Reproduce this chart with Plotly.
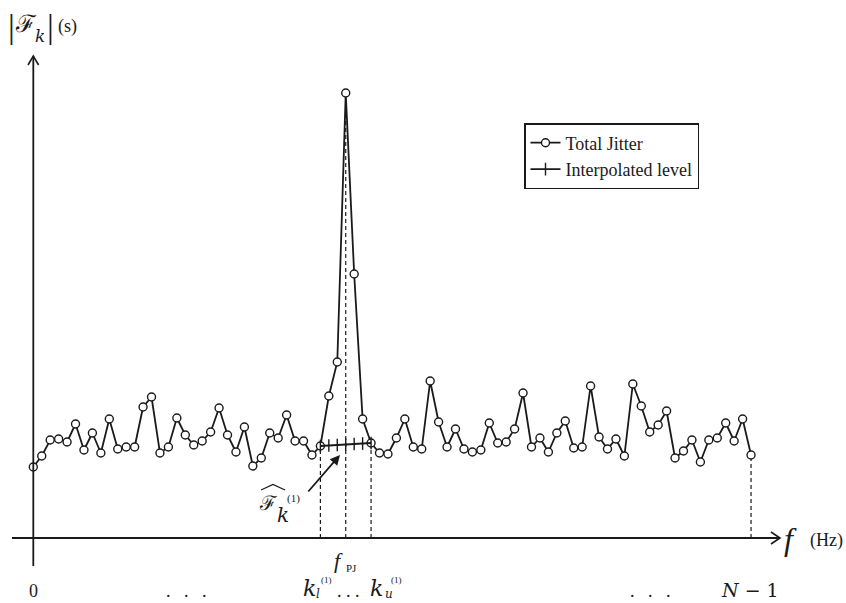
import plotly.graph_objects as go

# Spectrum magnitude |F_k| per frequency bin k (arbitrary units)
bins = list(range(86))
total_jitter = [
    0.71, 0.82, 0.98, 0.99, 0.96, 1.14, 0.88, 1.05, 0.85, 1.19,
    0.89, 0.91, 0.91, 1.31, 1.41, 0.85, 0.91, 1.20, 1.03, 0.93,
    0.97, 1.06, 1.30, 1.03, 0.86, 1.11, 0.72, 0.80, 1.05, 1.00,
    1.23, 0.97, 0.97, 0.83, 0.92, 1.42, 1.76, 4.45, 2.64, 1.19,
    0.95, 0.85, 0.84, 1.00, 1.19, 0.91, 0.89, 1.57, 1.16, 0.91,
    1.09, 0.89, 0.86, 0.88, 1.15, 0.95, 0.96, 1.09, 1.45, 0.91,
    1.00, 0.86, 1.05, 1.17, 0.90, 0.91, 1.52, 1.01, 0.89, 0.99,
    0.82, 1.54, 1.32, 1.06, 1.13, 1.27, 0.80, 0.87, 0.98, 0.76,
    0.98, 1.00, 1.15, 0.97, 1.19, 0.83,
]

# Interpolated noise floor across the peak region k_l .. k_u
interp_bins = [34, 35, 36, 37, 38, 39, 40]
interp_level = [0.92, 0.925, 0.93, 0.935, 0.94, 0.945, 0.95]

peak_bin = 37
k_lower, k_upper = 34, 40
last_bin = 85

W, H = 846, 603
# pixel <-> data conversion (axes fill the whole canvas)
X0, XS = 33.3, 8.444
Y0, YS = 538.0, 100.0


def dx(px):
    return (px - X0) / XS


def dy(py):
    return (Y0 - py) / YS


SERIF = "Liberation Serif, Times New Roman, serif"
MATH = "DejaVu Serif, Liberation Serif, serif"
INK = "#1a1a1a"

fig = go.Figure()

fig.add_trace(go.Scatter(
    x=bins, y=total_jitter, mode="lines+markers", name="Total Jitter",
    line=dict(color=INK, width=1.8),
    marker=dict(symbol="circle", size=8, color="white",
                line=dict(color=INK, width=1.4)),
))
fig.add_trace(go.Scatter(
    x=interp_bins, y=interp_level, mode="lines+markers", name="Interpolated level",
    line=dict(color=INK, width=1.8),
    marker=dict(symbol="line-ns", size=9, line=dict(color=INK, width=1.4)),
))

shapes = []
# dashed drop lines from selected bins to the frequency axis
for b in (k_lower, peak_bin, k_upper, last_bin):
    shapes.append(dict(type="line", xref="x", yref="y", x0=b, x1=b,
                       y0=0, y1=total_jitter[b], layer="below",
                       line=dict(color=INK, width=1.2, dash="4px,3px")))

# frequency axis with open arrowhead
shapes.append(dict(type="line", xref="x", yref="y", x0=dx(12), x1=dx(780),
                   y0=0, y1=0, line=dict(color=INK, width=1.8)))
shapes.append(dict(type="path", xref="x", yref="y",
                   path=f"M {dx(771)},{dy(532)} L {dx(780)},{dy(538)} L {dx(771)},{dy(544)}",
                   line=dict(color=INK, width=1.6)))
# magnitude axis with open arrowhead
shapes.append(dict(type="line", xref="x", yref="y", x0=0, x1=0,
                   y0=dy(566), y1=dy(56), line=dict(color=INK, width=1.8)))
shapes.append(dict(type="path", xref="x", yref="y",
                   path=f"M {dx(28)},{dy(65)} L {dx(33.3)},{dy(56)} L {dx(38.6)},{dy(65)}",
                   line=dict(color=INK, width=1.6)))
# wide hat over the estimated-level symbol
shapes.append(dict(type="path", xref="x", yref="y",
                   path=f"M {dx(261)},{dy(490)} L {dx(273)},{dy(484.5)} L {dx(285)},{dy(490)}",
                   line=dict(color=INK, width=1.2)))

ann = []


def label(px, py, text, size=18, font=SERIF, xanchor="center", yanchor="middle"):
    ann.append(dict(x=dx(px), y=dy(py), xref="x", yref="y", text=text,
                    showarrow=False, xanchor=xanchor, yanchor=yanchor,
                    font=dict(family=font, size=size, color=INK)))


# magnitude axis title |F_k| (s)
label(11, 26, "|", size=34)
label(26, 24, "ℱ", size=24, font=MATH)
label(40, 36, "<i>k</i>", size=17, font=MATH)
label(50, 26, "|", size=34)
label(67, 26, "(s)", size=18)

# frequency axis title f (Hz)
label(790, 539, "<i>f</i>", size=32)
label(826, 540, "(Hz)", size=18)

# f_PJ under the peak
label(338, 560, "<i>f</i>", size=22)
label(351, 568, "PJ", size=11)

# bin index labels along the bottom edge
label(33, 603, "0", size=18, yanchor="bottom")
label(186, 603, ".   .   .", size=18, yanchor="bottom")
label(309, 603, "<i>k</i>", size=22, font=MATH, yanchor="bottom")
label(318, 603, "<i>l</i>", size=12, font=MATH, yanchor="bottom")
label(326, 580, "(1)", size=9)
label(348, 603, ". . .", size=18, yanchor="bottom")
label(376, 603, "<i>k</i>", size=22, font=MATH, yanchor="bottom")
label(389, 603, "<i>u</i>", size=12, font=MATH, yanchor="bottom")
label(396, 580, "(1)", size=9)
label(650, 603, ".   .   .", size=18, yanchor="bottom")
label(750, 603, "<i>N</i> − 1", size=19, font=MATH, yanchor="bottom")

# estimated level symbol with arrow to the interpolated line
label(268, 503, "ℱ", size=20, font=MATH)
label(283, 515, "<i>k</i>", size=20, font=MATH)
label(293, 498, "(1)", size=11)
ann.append(dict(x=dx(340), y=dy(455), xref="x", yref="y",
                ax=dx(307), ay=dy(493), axref="x", ayref="y",
                text="", showarrow=True, arrowhead=2, arrowsize=1.1,
                arrowwidth=1.8, arrowcolor=INK))

fig.update_layout(
    width=W, height=H,
    margin=dict(l=0, r=0, t=0, b=0),
    paper_bgcolor="white", plot_bgcolor="white",
    xaxis=dict(visible=False, range=[dx(0), dx(W)], fixedrange=True),
    yaxis=dict(visible=False, range=[dy(H), dy(0)], fixedrange=True),
    shapes=shapes, annotations=ann,
    showlegend=True,
    legend=dict(x=524 / W, y=1 - 123 / H, xanchor="left", yanchor="top",
                bgcolor="white", bordercolor=INK, borderwidth=1.5,
                font=dict(family=SERIF, size=18, color=INK),
                tracegroupgap=0, itemwidth=30),
)

fig.write_html("out.html")
